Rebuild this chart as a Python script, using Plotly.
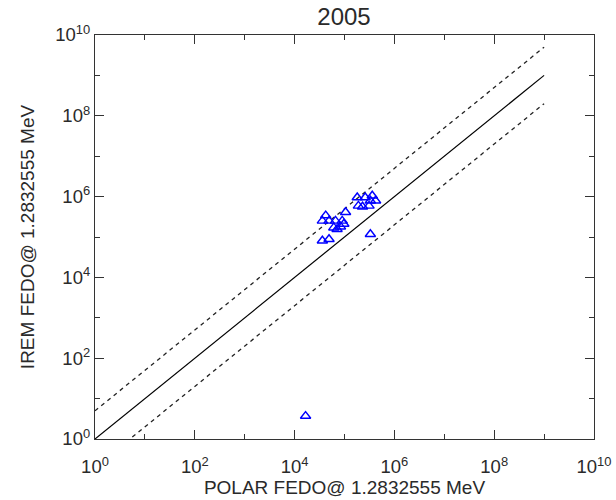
import plotly.graph_objects as go

# POLAR vs IREM electron flux (FEDO at 1.2832555 MeV), year 2005
polar_fedo = [1.8e5, 2.6e5, 3.6e5, 3.3e5, 4.2e5, 1.9e5, 2.3e5, 3.1e5, 1.05e5,
              4.2e4, 3.6e4, 4.9e4, 6.6e4, 9.0e4, 9.7e4, 6.1e4, 8.3e4, 7.1e4,
              3.6e4, 4.9e4, 3.3e5, 1.66e4]
irem_fedo = [9.5e5, 9.5e5, 1.05e6, 7.9e5, 7.9e5, 5.9e5, 5.6e5, 5.9e5, 4.1e5,
             3.4e5, 2.5e5, 2.5e5, 2.5e5, 2.5e5, 2.1e5, 1.7e5, 1.8e5, 1.56e5,
             8.1e4, 8.8e4, 1.17e5, 3.7]

# one-to-one reference line and factor-of-5 envelope
ref_x = [1.0, 1.0e9]
band_factor = 5.0

major_exp = [0, 2, 4, 6, 8, 10]
minor_exp = [1, 3, 5, 7, 9]
tick_vals = [10.0 ** e for e in major_exp]
tick_text = [f"10<sup>{e}</sup>" for e in major_exp]
minor_vals = [10.0 ** e for e in minor_exp]

FONT = "Liberation Sans, Arial, sans-serif"
TEXT_COLOR = "#2a2a2a"

fig = go.Figure()
fig.add_trace(go.Scatter(x=ref_x, y=ref_x, mode="lines",
                         line=dict(color="black", width=1.2), hoverinfo="skip"))
fig.add_trace(go.Scatter(x=ref_x, y=[v * band_factor for v in ref_x], mode="lines",
                         line=dict(color="#222222", width=1.3, dash="4px,4px"),
                         hoverinfo="skip"))
fig.add_trace(go.Scatter(x=ref_x, y=[v / band_factor for v in ref_x], mode="lines",
                         line=dict(color="#222222", width=1.3, dash="4px,4px"),
                         hoverinfo="skip"))
fig.add_trace(go.Scatter(x=polar_fedo, y=irem_fedo, mode="markers",
                         marker=dict(symbol="triangle-up-open", size=9,
                                     color="#0000ff", line=dict(width=1.4, color="#0000ff"))))

axis_common = dict(
    type="log", range=[0, 10], showgrid=False, zeroline=False, automargin=False,
    showline=True, linecolor="#333333", linewidth=1.3, mirror="ticks",
    ticks="inside", ticklen=9, tickwidth=1.2, tickcolor="#333333",
    tickmode="array", tickvals=tick_vals, ticktext=tick_text,
    tickfont=dict(family=FONT, size=18.5, color=TEXT_COLOR),
    minor=dict(tickmode="array", tickvals=minor_vals, ticks="inside",
               ticklen=5, tickwidth=1.2, tickcolor="#333333"),
)

fig.update_layout(
    width=616, height=500,
    margin=dict(l=95, r=22, t=35, b=61),
    paper_bgcolor="white", plot_bgcolor="white",
    showlegend=False,
    title=dict(text="2005", x=0.5585, xanchor="center", y=0.966, yanchor="middle",
               font=dict(family=FONT, size=24, color=TEXT_COLOR)),
    xaxis=dict(**axis_common, ticklabelstandoff=11,
               title=dict(text="POLAR FEDO@ 1.2832555 MeV", standoff=4,
                          font=dict(family=FONT, size=19, color=TEXT_COLOR))),
    yaxis=dict(**axis_common,
               title=dict(text="IREM FEDO@ 1.2832555 MeV", standoff=15,
                          font=dict(family=FONT, size=19, color=TEXT_COLOR))),
)

fig.write_html("out.html")
